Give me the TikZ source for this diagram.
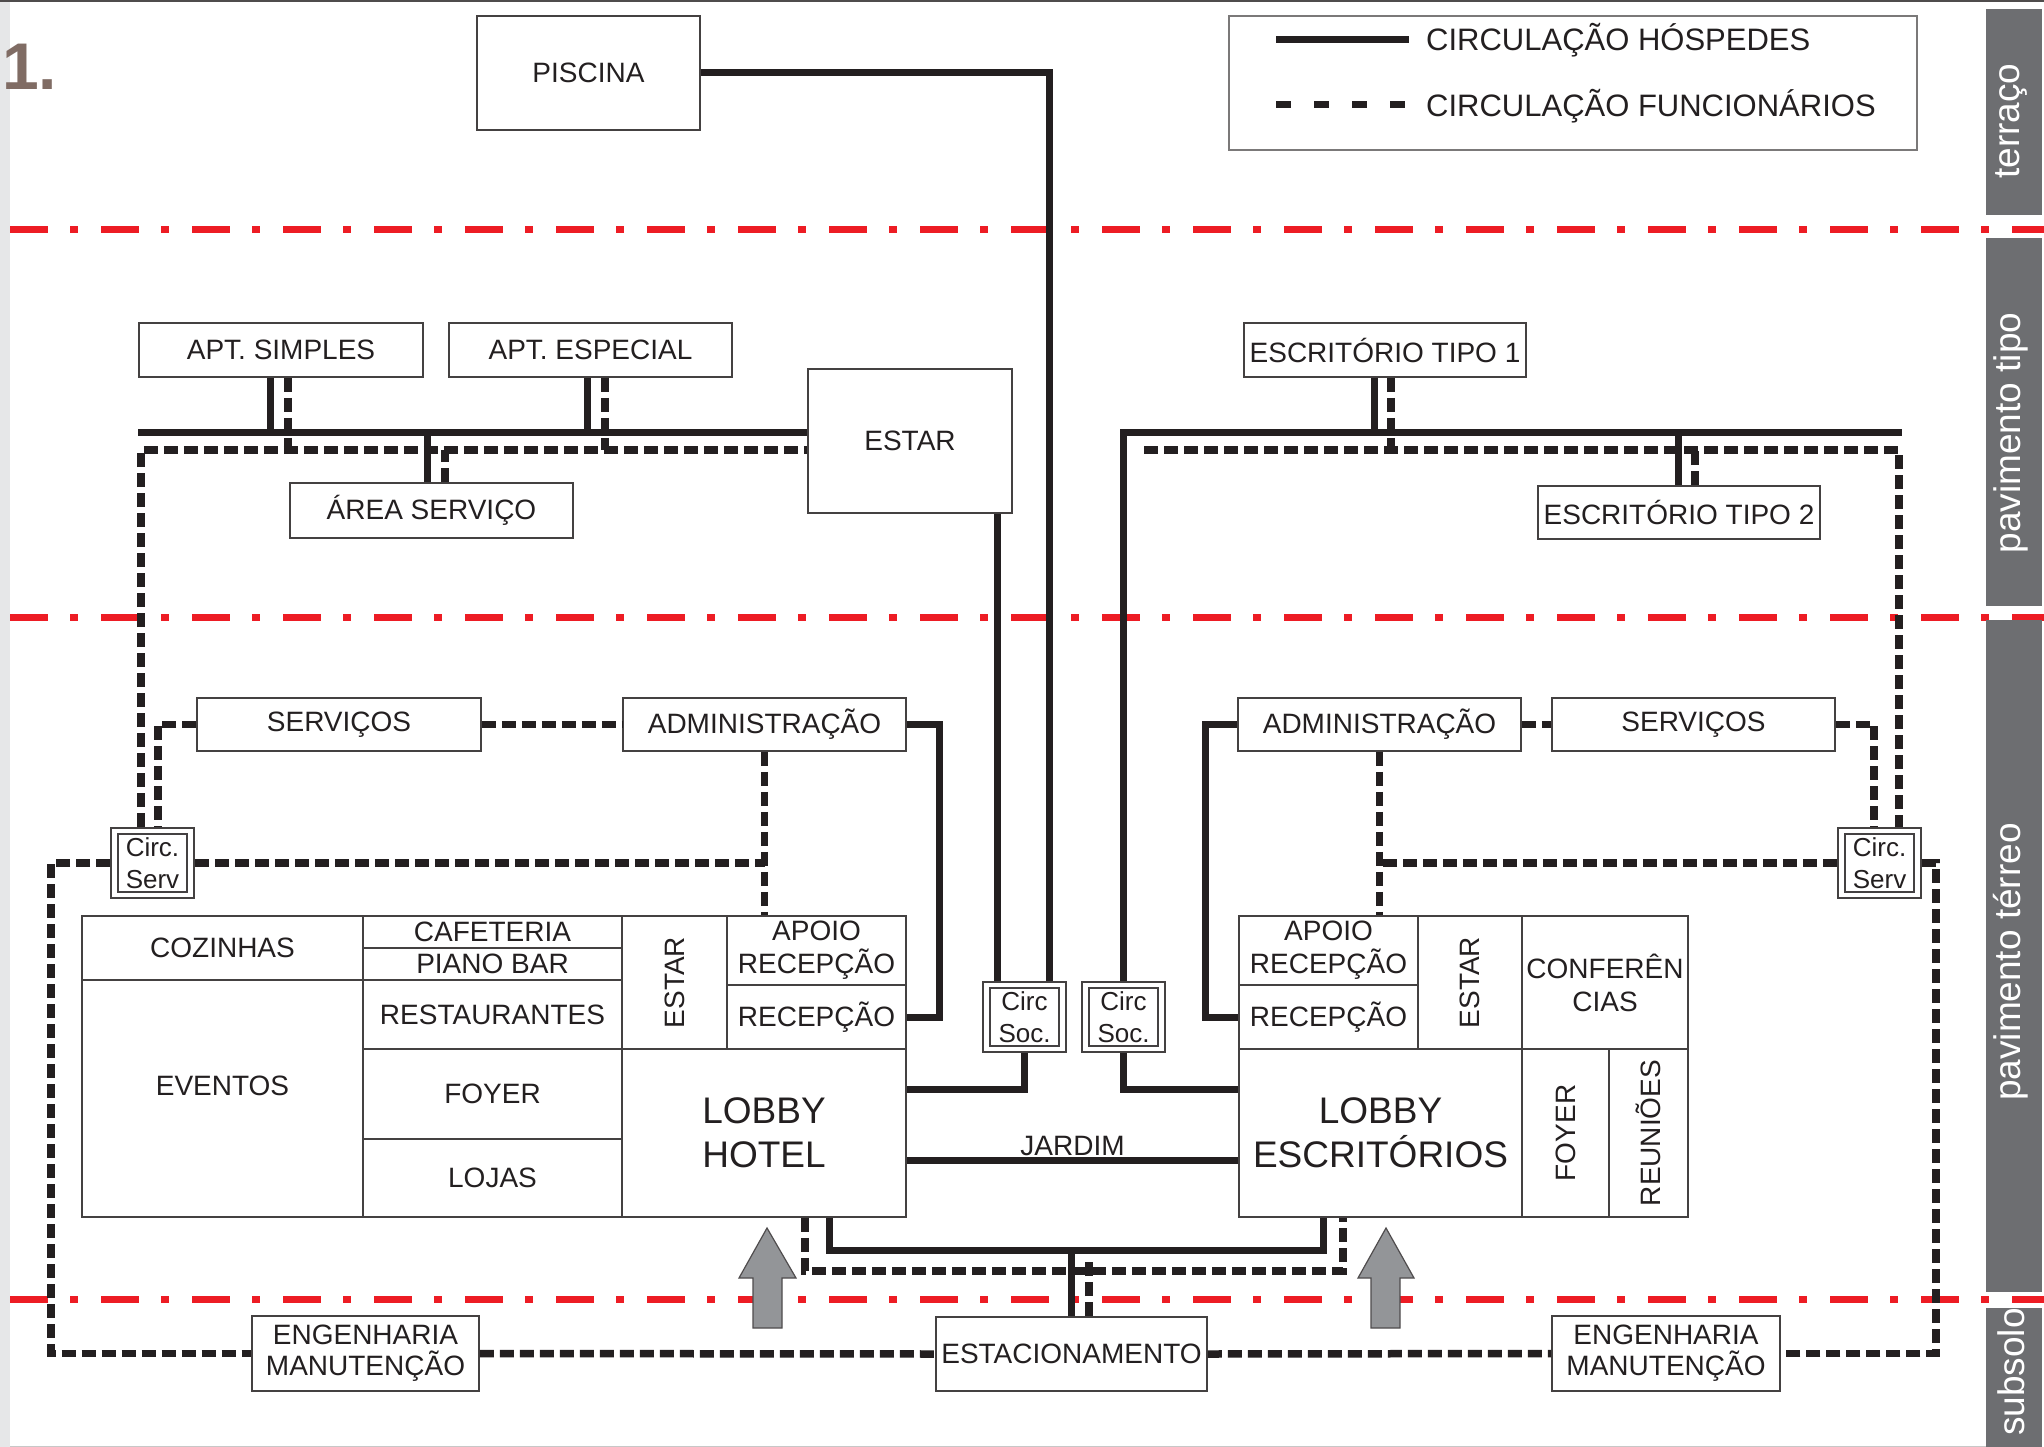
\documentclass[tikz,border=0pt]{standalone}
\usepackage{fontspec}
\setmainfont{Liberation Sans}
\definecolor{ink}{HTML}{231F20}
\definecolor{redl}{HTML}{ED1C24}
\definecolor{bandc}{HTML}{6D6E71}
\definecolor{arrc}{HTML}{939598}
\definecolor{stripc}{HTML}{E6E7E8}
\definecolor{numc}{HTML}{806C64}
\newcommand\fsA{\fontsize{28}{33}\selectfont}
\newcommand\fsE{\fontsize{28}{31}\selectfont}
\newcommand\fsL{\fontsize{37}{44}\selectfont}
\newcommand\fsG{\fontsize{31}{36}\selectfont}
\newcommand\fsS{\fontsize{37}{40}\selectfont}
\newcommand\fsC{\fontsize{26}{32}\selectfont}
\newcommand\fsN{\fontsize{66}{70}\selectfont\bfseries}
\newcommand\innerbox[1]{\draw[ink!85, line width=1.5pt] ([shift={(8pt,-7pt)}]#1.north west) rectangle ([shift={(-8pt,7pt)}]#1.south east);}
\tikzset{
  box/.style={draw=ink!85, line width=1.8pt, fill=white, inner sep=0pt, align=center, text=ink, font=\fsA},
  hosp/.style={draw=ink, line width=7pt},
  func/.style={draw=ink, line width=7.5pt, dash pattern=on 14pt off 6pt},
  floorline/.style={draw=redl, line width=7pt, dash pattern=on 38pt off 22pt on 8pt off 23pt},
  bandtext/.style={rotate=90, text=white, font=\fsS, inner sep=0pt},
  circbox/.style={box, font=\fsC},
  bigarrow/.style={fill=arrc, draw=ink!80, line width=1.2pt},
}
\begin{document}
\begin{tikzpicture}[x=1pt,y=-1pt]
\useasboundingbox (0,0) rectangle (2044,1447);
\fill[white] (0,0) rectangle (2044,1447);
\fill[stripc] (0,0) rectangle (10,1447);
\fill[ink!80] (0,0) rectangle (2044,2.5);
\draw[ink!25, line width=1pt] (10,1446) -- (1986,1446);

% floor separators
\draw[floorline] (10,230) -- (2044,230);
\draw[floorline] (10,617) -- (2044,617);
\draw[floorline] (10,1299) -- (2044,1299);

% side bands
\fill[bandc] (1986,9) rectangle (2042,215);
\fill[bandc] (1986,238) rectangle (2042,606);
\fill[bandc] (1986,620) rectangle (2042,1292);
\fill[bandc] (1986,1308) rectangle (2042,1447);
\node[bandtext] (lbT) at (2011,121) {terraço};
\node[bandtext] (lbP) at (2011,433) {pavimento tipo};
\node[bandtext] (lbR) at (2011,962) {pavimento térreo};
\node[bandtext] (lbS) at (2011,1372) {subsolo};

\node[anchor=base west, font=\fsN, text=numc, inner sep=0pt] (num) at (2,90) {1.};

% legend
\node[draw=ink!60, line width=1.5pt, minimum width=688, minimum height=134, inner sep=0pt] (legend) at (1573,83) {};
\draw[ink, line width=7pt] (1276,40) -- (1409,40);
\draw[ink, line width=7pt, dash pattern=on 15pt off 23pt] (1276,105) -- (1405,105);
\node[anchor=base west, font=\fsG, text=ink, inner sep=0pt] (lgA) at (1426,51) {CIRCULAÇÃO HÓSPEDES};
\node[anchor=base west, font=\fsG, text=ink, inner sep=0pt] (lgB) at (1426,117) {CIRCULAÇÃO FUNCIONÁRIOS};

% terraco
\node[box, minimum width=223, minimum height=114] (piscina) at (588.5,73) {PISCINA};

% pavimento tipo
\node[box, minimum width=284, minimum height=54] (aptS) at (281,350) {APT. SIMPLES};
\node[box, minimum width=283, minimum height=54] (aptE) at (590.5,350) {APT. ESPECIAL};
\node[box, minimum width=204, minimum height=144] (estarT) at (910,441) {ESTAR};
\node[box, minimum width=283, minimum height=55] (areaS) at (431.5,510.5) {ÁREA SERVIÇO};
\node[box, minimum width=282, minimum height=54] (esc1) at (1385,350) {ESCRITÓRIO TIPO 1};
\node[box, minimum width=282, minimum height=53] (esc2) at (1679,512.5) {ESCRITÓRIO TIPO 2};

% pavimento terreo - upper boxes
\node[box, minimum width=284, minimum height=53] (servL) at (339,724.5) {SERVIÇOS};
\node[box, minimum width=283, minimum height=53] (admL) at (764.5,724.5) {ADMINISTRAÇÃO};
\node[box, minimum width=283, minimum height=53] (admR) at (1379.5,724.5) {ADMINISTRAÇÃO};
\node[box, minimum width=283, minimum height=53] (servR) at (1693.5,724.5) {SERVIÇOS};

\node[circbox, minimum width=83, minimum height=70] (cservL) at (152.5,863) {Circ.\\Serv};
\innerbox{cservL}
\node[circbox, minimum width=83, minimum height=70] (cservR) at (1879.5,863) {Circ.\\Serv};
\innerbox{cservR}
\node[circbox, minimum width=83, minimum height=70] (csocL) at (1024.5,1017) {Circ\\Soc.};
\innerbox{csocL}
\node[circbox, minimum width=83, minimum height=70] (csocR) at (1123.5,1017) {Circ\\Soc.};
\innerbox{csocR}

% hotel block
\node[box, minimum width=281, minimum height=64] (cozinhas) at (222.5,948) {COZINHAS};
\node[box, minimum width=281, minimum height=237, text depth=26pt] (eventos) at (222.5,1098.5) {EVENTOS};
\node[box, minimum width=259, minimum height=32] (cafe) at (492.5,932) {CAFETERIA};
\node[box, minimum width=259, minimum height=32] (piano) at (492.5,964) {PIANO BAR};
\node[box, minimum width=259, minimum height=69] (rest) at (492.5,1014.5) {RESTAURANTES};
\node[box, minimum width=259, minimum height=90] (foyerH) at (492.5,1094) {FOYER};
\node[box, minimum width=259, minimum height=78] (lojas) at (492.5,1178) {LOJAS};
\node[box, rotate=90, minimum width=133, minimum height=105] (estarH) at (674.5,982.5) {ESTAR};
\node[box, minimum width=179, minimum height=69] (apoioL) at (816.5,950.5) {APOIO\\RECEPÇÃO};
\node[box, minimum width=179, minimum height=64] (recL) at (816.5,1017) {RECEPÇÃO};
\node[box, font=\fsL, minimum width=284, minimum height=168] (lobbyH) at (764,1133) {LOBBY\\HOTEL};

% office block
\node[box, minimum width=179, minimum height=69] (apoioR) at (1328.5,950.5) {APOIO\\RECEPÇÃO};
\node[box, minimum width=179, minimum height=64] (recR) at (1328.5,1017) {RECEPÇÃO};
\node[box, rotate=90, minimum width=133, minimum height=104] (estarR) at (1470,982.5) {ESTAR};
\node[box, minimum width=166, minimum height=133] (confer) at (1605,982.5) {CONFERÊN\\CIAS};
\node[box, font=\fsL, minimum width=283, minimum height=168] (lobbyE) at (1380.5,1133) {LOBBY\\ESCRITÓRIOS};
\node[box, rotate=90, minimum width=168, minimum height=87] (foyerR) at (1565.5,1133) {FOYER};
\node[box, rotate=90, minimum width=168, minimum height=79] (reuni) at (1648.5,1133) {REUNIÕES};

% subsolo
\node[box, font=\fsE, minimum width=227, minimum height=75] (engL) at (365.5,1353.5) {ENGENHARIA\\MANUTENÇÃO};
\node[box, minimum width=271, minimum height=74] (estac) at (1071.5,1354) {ESTACIONAMENTO};
\node[box, font=\fsE, minimum width=228, minimum height=75] (engR) at (1666,1353.5) {ENGENHARIA\\MANUTENÇÃO};

% ---------- connectors ----------
% terraco / tipo hotel side
\draw[hosp] (piscina.east) -| ([xshift=24.5pt]csocL.north);
\coordinate (csLa) at ([xshift=-27.5pt]csocL.north);
\draw[hosp] (estarT.south -| csLa) -- (csLa);
\coordinate (tl) at (138,432);
\coordinate (tld) at (141,450);
\draw[hosp] (tl) -- (tl -| estarT.west);
\draw[func] ([xshift=-11.5pt]cservL.north) -- (tld) -- (tld -| estarT.west);
\draw[hosp] ([xshift=-11pt]aptS.south) -- ([xshift=-11pt]aptS.south |- tl);
\draw[func] ([xshift=7pt]aptS.south) -- ([xshift=7pt]aptS.south |- tld);
\draw[hosp] ([xshift=-3.5pt]aptE.south) -- ([xshift=-3.5pt]aptE.south |- tl);
\draw[func] ([xshift=14.5pt]aptE.south) -- ([xshift=14.5pt]aptE.south |- tld);
\draw[hosp] ([xshift=-4.5pt]areaS.north) -- ([xshift=-4.5pt]areaS.north |- tl);
\draw[func] ([xshift=13.5pt]areaS.north) -- ([xshift=13.5pt]areaS.north |- tld);

% tipo office side
\coordinate (tr) at (1902,432);
\coordinate (trd) at (1144,450);
\draw[hosp] (csocR.north) |- (tr);
\draw[func] (trd) -| ([xshift=19.5pt]cservR.north);
\draw[hosp] ([xshift=-11pt]esc1.south) -- ([xshift=-11pt]esc1.south |- tr);
\draw[func] ([xshift=6pt]esc1.south) -- ([xshift=6pt]esc1.south |- trd);
\draw[hosp] ([xshift=-1pt]esc2.north) -- ([xshift=-1pt]esc2.north |- tr);
\draw[func] ([xshift=16pt]esc2.north) -- ([xshift=16pt]esc2.north |- trd);

% terreo hotel side
\draw[func] (servL.east) -- (admL.west);
\draw[func] (servL.west) -| ([xshift=5.5pt]cservL.north);
\draw[hosp] (admL.east) -- ++(33,0) |- (recL.east);
\draw[func] (admL.south) -- (admL.south |- apoioL.north);
\draw[func] (cservL.east) -- (cservL.east -| admL.south);
\draw[func] (cservL.west) -- ++(-59,0) |- (engL.west);
\draw[hosp] (csocL.south) |- ([yshift=44pt]lobbyH.east);

% terreo office side
\draw[func] (admR.east) -- (servR.west);
\draw[func] (servR.east) -| ([xshift=-5.5pt]cservR.north);
\draw[hosp] (admR.west) -- ++(-32,0) |- (recR.west);
\draw[func] (admR.south) -- (admR.south |- apoioR.north);
\draw[func] (cservR.west) -- (cservR.west -| admR.south);
\draw[func] (cservR.east) -- ++(14,0) |- (engR.east);
\draw[hosp] (csocR.south) |- ([yshift=44pt]lobbyE.west);

% jardim
\draw[hosp] ([yshift=-27pt]lobbyH.east) -- ([yshift=-27pt]lobbyE.west)
  node[midway, anchor=base, yshift=5pt, font=\fsA, text=ink, inner sep=0pt] (jardim) {JARDIM};

% lower links
\coordinate (bs) at ([xshift=65pt,yshift=-33pt]lobbyH.south);
\coordinate (bd) at ([xshift=41pt,yshift=-53pt]lobbyH.south);
\draw[hosp] ([xshift=65pt]lobbyH.south) -- (bs) -| ([xshift=-57.5pt]lobbyE.south);
\draw[func] ([xshift=41pt]lobbyH.south) -- (bd) -| ([xshift=-37.5pt]lobbyE.south);
\draw[hosp] (estac.north) -- (estac.north |- bs);
\draw[func] ([xshift=17.5pt]estac.north) -- ([xshift=17.5pt,yshift=-8pt]estac.north |- bs);
\draw[func] (engL.east) -- (estac.west);
\draw[func] (estac.east) -- (engR.west);

% arrows
\draw[bigarrow] (767,1228) -- (796,1278) -- (782,1278) -- (782,1328) -- (753,1328) -- (753,1278) -- (739,1278) -- cycle;
\draw[bigarrow] (1386,1228) -- (1414,1278) -- (1400,1278) -- (1400,1328) -- (1371,1328) -- (1371,1278) -- (1358,1278) -- cycle;
\end{tikzpicture}
\end{document}
